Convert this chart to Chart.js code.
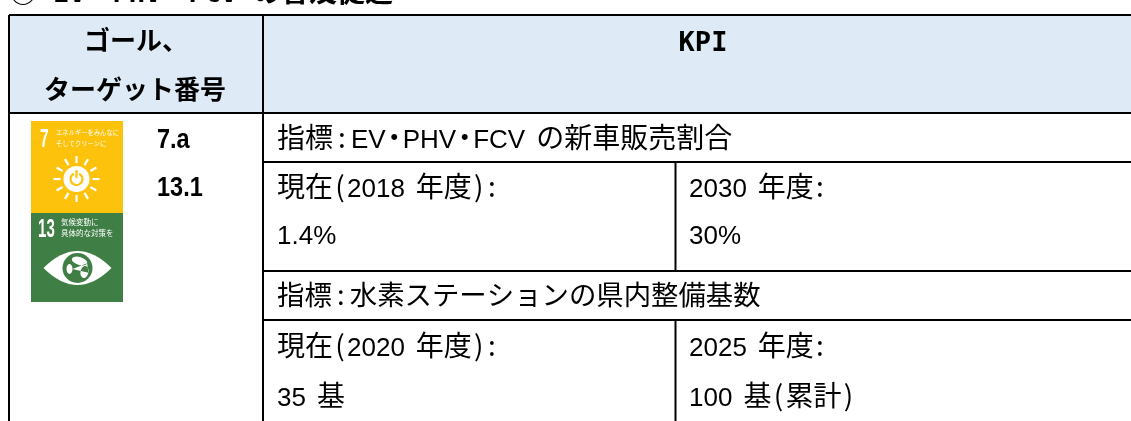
<!DOCTYPE html>
<html lang="ja">
<head>
<meta charset="utf-8">
<title>KPI</title>
<script src="https://cdn.jsdelivr.net/npm/chart.js@4"></script>
<style>
  html, body { margin: 0; padding: 0; background: #fff; overflow: hidden; }
  canvas { display: block; }
</style>
</head>
<body>
<canvas id="kpiTable" width="1131" height="421"></canvas>
<script>
// table content
const sectionTitle = "② EV・PHV・FCV の普及促進";
const headerLabels = ["ゴール、", "ターゲット番号", "KPI"];
const goalTargets = ["7.a", "13.1"];
const kpiNames = ["指標:EV・PHV・FCV の新車販売割合", "指標:水素ステーションの県内整備基数"];
const currentLabels = ["現在(2018 年度):", "現在(2020 年度):"];
const currentValues = ["1.4%", "35 基"];
const targetLabels = ["2030 年度:", "2025 年度:"];
const targetValues = ["30%", "100 基(累計)"];
const sdgCaptions = [
  ["7", "エネルギーをみんなに", "そしてクリーンに"],
  ["13", "気候変動に", "具体的な対策を"]
];

// table grid, in page units
const columnEdges = [9, 263, 675.5, 1131];
const rowEdges = [15, 113, 162, 271, 320, 421];
const sdgBox = { left: 31, right: 123, top: 121, middle: 213, bottom: 302 };

const BLACK = "#000000";
const LATIN = '"Liberation Sans"';
const CJK = '"Noto Sans CJK JP"';
const MONO_BOLD = 'bold 27px "DejaVu Sans Mono"';
const BODY = { latin: "26px " + LATIN, cjk: "28px " + CJK, colon: 18, dot: 17, paren: 14, space: 11 };
const BODY_TIGHT = { ...BODY, cjk: "27.4px " + CJK };
const HEAD = { latin: MONO_BOLD, cjk: "bold 26px " + CJK, colon: 14, dot: 27, paren: 14, space: 16 };
const TITLE = { ...HEAD, cjk: "bold 28px " + CJK };

function ruleDataset(x0, y0, x1, y1) {
  return {
    data: [{ x: x0, y: y0 }, { x: x1, y: y1 }],
    showLine: true,
    borderColor: BLACK,
    borderWidth: 2,
    pointRadius: 0,
    fill: false
  };
}

function boxDataset(x0, y0, x1, y1, color) {
  return {
    data: [
      { x: x0, y: y0 }, { x: x1, y: y0 }, { x: x1, y: y1 }, { x: x0, y: y1 }, { x: x0, y: y0 }
    ],
    showLine: true,
    borderWidth: 0,
    borderColor: color,
    backgroundColor: color,
    pointRadius: 0,
    fill: "shape"
  };
}

const [colA, colB, colC, colD] = columnEdges;
const [rowTop, rowHead, rowKpi1, rowVal1, rowKpi2, rowEnd] = rowEdges;

// first dataset is painted last, so the rules go before the boxes
const tableDatasets = [
  ruleDataset(colA, rowTop, colD, rowTop),
  ruleDataset(colA, rowHead, colD, rowHead),
  ruleDataset(colB, rowKpi1, colD, rowKpi1),
  ruleDataset(colB, rowVal1, colD, rowVal1),
  ruleDataset(colB, rowKpi2, colD, rowKpi2),
  ruleDataset(colA, rowTop, colA, rowEnd),
  ruleDataset(colB, rowTop, colB, rowEnd),
  ruleDataset(colC, rowKpi1, colC, rowVal1),
  ruleDataset(colC, rowKpi2, colC, rowEnd),
  boxDataset(colA, rowTop, colD, rowHead, "#DEEAF6"),
  boxDataset(sdgBox.left, sdgBox.top, sdgBox.right, sdgBox.middle, "#FDC30C"),
  boxDataset(sdgBox.left, sdgBox.middle, sdgBox.right, sdgBox.bottom, "#3F7E44")
];

// mixed latin / japanese lines, y is the baseline
const mixedTexts = [
  { text: sectionTitle, x: 9, y: 2, style: TITLE },
  { text: headerLabels[0], x: 136, y: 50, align: "center", style: HEAD },
  { text: headerLabels[1], x: 135, y: 99, align: "center", style: HEAD },
  { text: headerLabels[2], x: 703, y: 51, align: "center", style: HEAD },
  { text: kpiNames[0], x: 277, y: 148, style: BODY },
  { text: currentLabels[0], x: 277, y: 197, style: BODY },
  { text: currentValues[0], x: 277, y: 244, style: BODY },
  { text: targetLabels[0], x: 689, y: 197, style: BODY },
  { text: targetValues[0], x: 689, y: 244, style: BODY },
  { text: kpiNames[1], x: 277, y: 305, style: BODY_TIGHT },
  { text: currentLabels[1], x: 277, y: 356, style: BODY },
  { text: currentValues[1], x: 277, y: 406, style: BODY },
  { text: targetLabels[1], x: 689, y: 356, style: BODY },
  { text: targetValues[1], x: 689, y: 406, style: BODY }
];

// single font lines, squeezed horizontally where the source font is narrow
const plainTexts = [
  { text: goalTargets[0], x: 157, y: 148, font: "bold 28px " + LATIN, squeeze: 0.84 },
  { text: goalTargets[1], x: 157, y: 196, font: "bold 28px " + LATIN, squeeze: 0.84 },
  { text: sdgCaptions[0][0], x: 40, y: 147, color: "#fff", font: "bold 25px " + LATIN, squeeze: 0.62 },
  { text: sdgCaptions[0][1], x: 56, y: 135, color: "#fff", font: "6.3px " + CJK },
  { text: sdgCaptions[0][2], x: 56, y: 146, color: "#fff", font: "6.3px " + CJK },
  { text: sdgCaptions[1][0], x: 38, y: 237, color: "#fff", font: "bold 26px " + LATIN, squeeze: 0.58 },
  { text: sdgCaptions[1][1], x: 61, y: 225, color: "#fff", font: "7.5px " + CJK },
  { text: sdgCaptions[1][2], x: 61, y: 236, color: "#fff", font: "7.5px " + CJK }
];

function splitRuns(text) {
  return text.match(/[:・() ]|[\x21-\x7e]+|[^\x20-\x7e・]+/g);
}

// punctuation and spaces get fixed advances, they are narrow in the source font
function fixedAdvance(run, style) {
  if (run === ":") return style.colon;
  if (run === "・") return style.dot;
  if (run === "(" || run === ")") return style.paren;
  if (run === " ") return style.space;
  return 0;
}

function runWidth(ctx, run, style) {
  const fixed = fixedAdvance(run, style);
  if (fixed) return fixed;
  ctx.font = /^[\x21-\x7e]/.test(run) ? style.latin : style.cjk;
  return ctx.measureText(run).width;
}

function drawMixed(ctx, item, px, py) {
  const runs = splitRuns(item.text);
  const total = runs.reduce((sum, run) => sum + runWidth(ctx, run, item.style), 0);
  let left = item.align === "center" ? px - total / 2 : px;
  runs.forEach((run, i) => {
    const width = runWidth(ctx, run, item.style);
    if (run !== " ") {
      if (fixedAdvance(run, item.style)) {
        ctx.font = item.style.cjk;
        ctx.textAlign = "center";
        // a trailing colon sits closer to the text before it
        const centre = run === ":" && i === runs.length - 1 ? left + 6 : left + width / 2;
        ctx.fillText(run, centre, py);
      } else {
        ctx.textAlign = "left";
        ctx.fillText(run, left, py);
      }
    }
    left += width;
  });
}

// draws the cell text and the two goal pictograms on top of the grid
const tablePlugin = {
  id: "tableText",
  afterDatasetsDraw(chart) {
    const { ctx, scales: { x, y } } = chart;
    ctx.save();
    ctx.textBaseline = "alphabetic";
    ctx.fillStyle = BLACK;
    mixedTexts.forEach(item => {
      drawMixed(ctx, item, x.getPixelForValue(item.x), y.getPixelForValue(item.y));
    });
    ctx.textAlign = "left";
    plainTexts.forEach(item => {
      ctx.save();
      ctx.font = item.font;
      ctx.fillStyle = item.color || BLACK;
      ctx.translate(x.getPixelForValue(item.x), y.getPixelForValue(item.y));
      ctx.scale(item.squeeze || 1, 1);
      ctx.fillText(item.text, 0, 0);
      ctx.restore();
    });

    // sun with power button
    const sunX = x.getPixelForValue(76.5), sunY = y.getPixelForValue(179);
    ctx.strokeStyle = "#fff";
    ctx.lineWidth = 2.2;
    for (let i = 0; i < 12; i++) {
      const a = i * Math.PI / 6;
      ctx.beginPath();
      ctx.moveTo(sunX + Math.cos(a) * 16, sunY + Math.sin(a) * 16);
      ctx.lineTo(sunX + Math.cos(a) * 23, sunY + Math.sin(a) * 23);
      ctx.stroke();
    }
    ctx.fillStyle = "#fff";
    ctx.beginPath();
    ctx.arc(sunX, sunY, 13, 0, Math.PI * 2);
    ctx.fill();
    ctx.strokeStyle = "#FDC30C";
    ctx.beginPath();
    ctx.arc(sunX, sunY, 6, -1.1, Math.PI + 1.1);
    ctx.stroke();
    ctx.beginPath();
    ctx.moveTo(sunX, sunY - 9);
    ctx.lineTo(sunX, sunY - 1);
    ctx.stroke();

    // eye with globe
    const eyeX = x.getPixelForValue(77.5), eyeY = y.getPixelForValue(268);
    ctx.fillStyle = "#fff";
    ctx.beginPath();
    ctx.moveTo(eyeX - 34, eyeY);
    ctx.quadraticCurveTo(eyeX, eyeY - 34, eyeX + 34, eyeY);
    ctx.quadraticCurveTo(eyeX, eyeY + 34, eyeX - 34, eyeY);
    ctx.fill();
    ctx.fillStyle = "#3F7E44";
    ctx.beginPath();
    ctx.arc(eyeX, eyeY, 15, 0, Math.PI * 2);
    ctx.fill();
    ctx.fillStyle = "#fff";
    ctx.beginPath();
    ctx.ellipse(eyeX + 2, eyeY - 7, 8, 4, 0.3, 0, Math.PI * 2);
    ctx.ellipse(eyeX - 8, eyeY + 1, 3, 5, 0, 0, Math.PI * 2);
    ctx.ellipse(eyeX + 7, eyeY + 4, 4, 6, 0.2, 0, Math.PI * 2);
    ctx.fill();
    ctx.restore();
  }
};

function initKpiTable() {
  new Chart(document.getElementById("kpiTable"), {
    type: "scatter",
    data: { datasets: tableDatasets },
    options: {
      responsive: false,
      animation: false,
      events: [],
      layout: { padding: 0 },
      plugins: { legend: { display: false }, tooltip: { enabled: false } },
      scales: {
        x: { type: "linear", min: 0, max: 1131, display: false },
        y: { type: "linear", min: 0, max: 421, reverse: true, display: false }
      }
    },
    plugins: [tablePlugin]
  });
}

document.addEventListener("DOMContentLoaded", initKpiTable);
</script>
</body>
</html>
